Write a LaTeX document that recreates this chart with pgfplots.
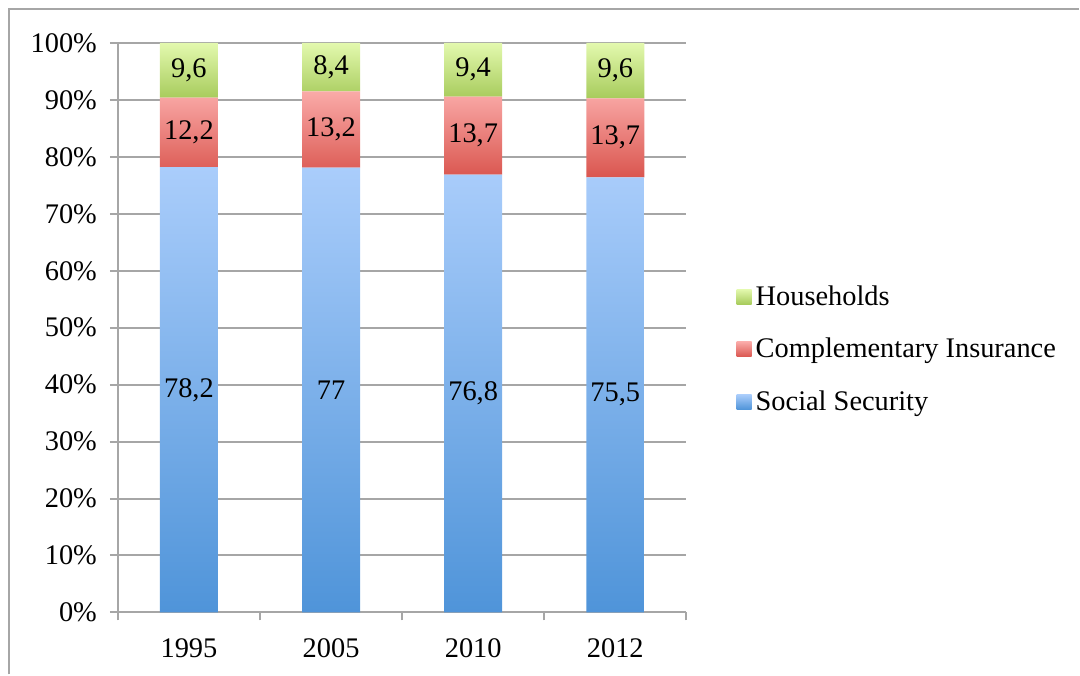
\documentclass[border=0pt]{standalone}
\usepackage{pgfplots}
\pgfplotsset{compat=1.18}
\usepackage{pgfplotstable}
\usepackage{fontspec}
\setmainfont{Liberation Serif}
\definecolor{gridgray}{HTML}{A6A6A6}
\definecolor{blueTop}{HTML}{AACDFB}
\definecolor{blueBot}{HTML}{4F94D9}
\definecolor{redTop}{HTML}{FAAAA8}
\definecolor{redBot}{HTML}{DA564F}
\definecolor{greenTop}{HTML}{E3F9AE}
\definecolor{greenBot}{HTML}{A7CB5C}
% shares normalised to 100 % (original values: see labels)
\pgfplotstableread{
x ss ci hh
0 78.200 12.200 9.600
1 78.093 13.387 8.519
2 76.877 13.714 9.409
3 76.417 13.866 9.717
}\shares
\pgfplotstableread{
x mid val
0 39.10 78.2
0 84.30 12.2
0 95.20 9.6
1 39.05 77
1 84.79 13.2
1 95.74 8.4
2 38.44 76.8
2 83.73 13.7
2 95.30 9.4
3 38.21 75.5
3 83.35 13.7
3 95.14 9.6
}\labels
\newcommand\lbl{\fontsize{14.2}{17}\selectfont}
\begin{document}
\begin{tikzpicture}
\begin{axis}[
  at={(0,0)}, anchor=south west,
  scale only axis, width=284.5pt, height=285pt,
  ybar stacked, bar width=29pt,
  xmin=-0.5, xmax=3.5, ymin=0, ymax=100,
  xtick={-0.5,0.5,1.5,2.5,3.5}, xticklabels={},
  extra x ticks={0,1,2,3}, extra x tick labels={1995,2005,2010,2012},
  extra x tick style={major tick length=0pt, grid=none},
  ytick={0,10,...,100},
  yticklabels={0\%,10\%,20\%,30\%,40\%,50\%,60\%,70\%,80\%,90\%,100\%},
  ymajorgrids, grid style={gridgray, line width=1pt},
  axis x line*=bottom, axis y line*=left,
  axis line style={-, gridgray, line width=1pt},
  tick style={gridgray, line width=1pt},
  tick align=outside, major tick length=4pt,
  tick label style={font=\lbl},
  xticklabel style={yshift=-9.5pt},
  yticklabel style={xshift=-3pt},
  legend style={at={(1,0.462)}, anchor=west, xshift=22pt, draw=none, fill=none,
    font=\lbl, row sep=11pt, cells={anchor=west}},
  legend image code/.code={\path[#1, draw=none] (0pt,-3.75pt) rectangle (7.5pt,3.75pt);},
  reverse legend,
]
\addplot[draw=none, top color=blueTop, bottom color=blueBot] table[x=x,y=ss]{\shares};
\addlegendentry{Social Security}
\addplot[draw=none, top color=redTop, bottom color=redBot] table[x=x,y=ci]{\shares};
\addlegendentry{Complementary Insurance}
\addplot[draw=none, top color=greenTop, bottom color=greenBot] table[x=x,y=hh]{\shares};
\addlegendentry{Households}
\end{axis}
\begin{axis}[
  at={(0,0)}, anchor=south west,
  scale only axis, width=284.5pt, height=285pt,
  xmin=-0.5, xmax=3.5, ymin=0, ymax=100, hide axis,
]
\addplot[draw=none, mark=none, point meta=explicit,
  nodes near coords={\pgfmathprintnumber[use comma,fixed,precision=1,assume math mode=true]{\pgfplotspointmeta}},
  every node near coord/.append style={anchor=center, text=black, font=\lbl}]
  table[x=x,y=mid,meta=val]{\labels};
\end{axis}
\draw[gridgray, line width=1pt] (-54.5pt,-31pt) -- (-54.5pt,301.75pt) -- (481pt,301.75pt);
\path[use as bounding box] (-59pt,-31pt) rectangle (481pt,306.5pt);
\end{tikzpicture}
\end{document}
